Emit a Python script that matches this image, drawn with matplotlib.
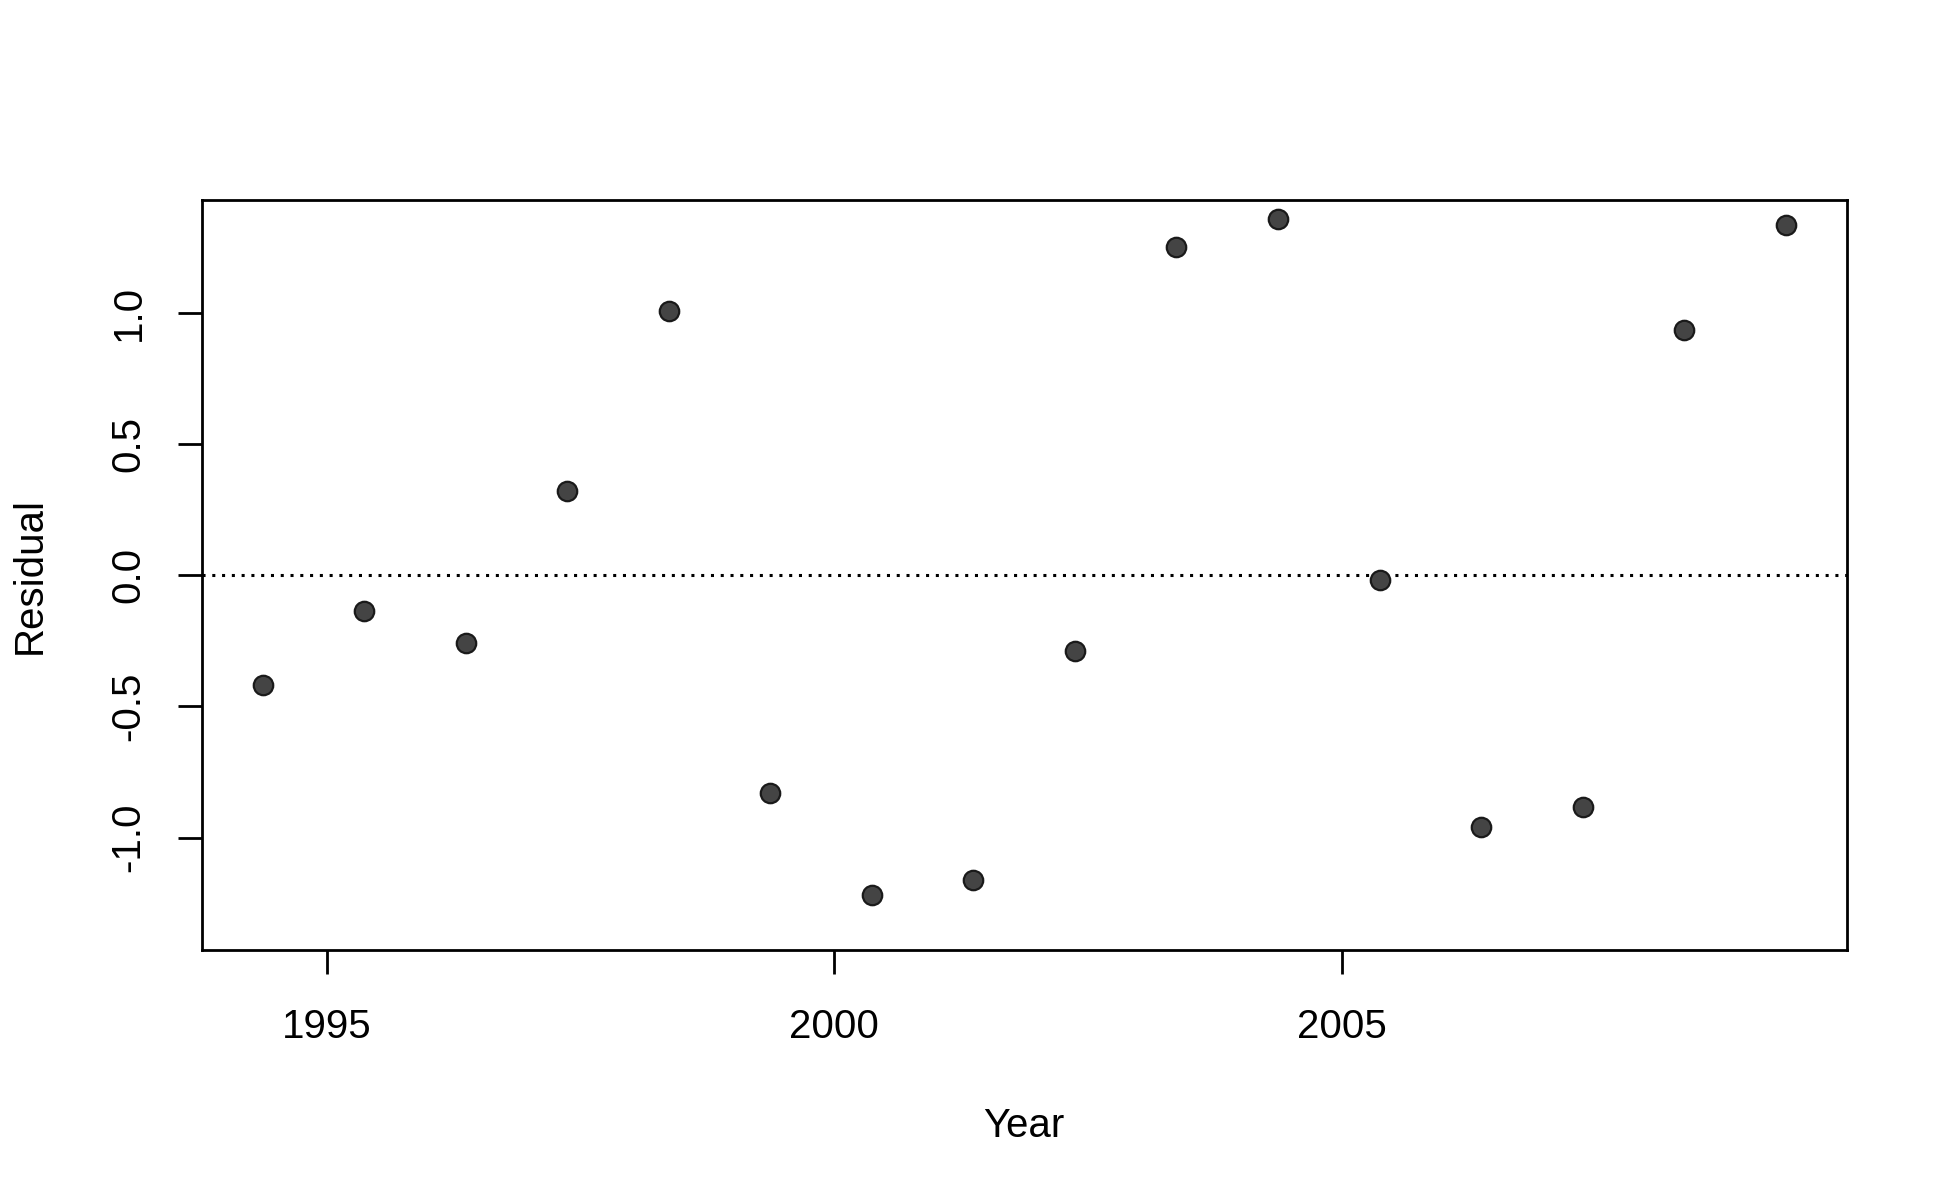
import matplotlib
matplotlib.use('Agg')
import matplotlib.pyplot as plt

# residuals by year
years = [1994.37, 1995.37, 1996.37, 1997.37, 1998.37, 1999.37, 2000.37, 2001.37,
         2002.37, 2003.37, 2004.37, 2005.37, 2006.37, 2007.37, 2008.37, 2009.37]
resid = [-0.42, -0.135, -0.26, 0.32, 1.005, -0.83, -1.22, -1.16,
         -0.29, 1.25, 1.355, -0.02, -0.96, -0.885, 0.935, 1.335]
xticks = [1995, 2000, 2005]
yticks = [-1.0, -0.5, 0.0, 0.5, 1.0]

plt.rcParams['font.family'] = ['Liberation Sans', 'DejaVu Sans']

fig = plt.figure(figsize=(19.5, 12), dpi=100)
ax = fig.add_axes([0.1034, 0.2085, 0.8436, 0.6245])

ax.axhline(0, color='black', linestyle=(0, (1, 2.2)), linewidth=2.2)
ax.plot(years, resid, 'o', markersize=14, markerfacecolor='#444444',
        markeredgecolor='#1a1a1a', markeredgewidth=1.6)

ax.set_xlim(1993.77, 2009.97)
ax.set_ylim(-1.427, 1.427)
ax.set_xticks(xticks)
ax.set_xticklabels([str(t) for t in xticks])
ax.set_yticks(yticks)
ax.set_yticklabels(['%.1f' % t for t in yticks], rotation=90, va='center')

for s in ax.spines.values():
    s.set_linewidth(2)
ax.tick_params(axis='both', length=17, width=2, labelsize=29, pad=22)
ax.tick_params(axis='x', pad=25)

ax.set_xlabel('Year', fontsize=29, labelpad=44)
ax.set_ylabel('Residual', fontsize=29, labelpad=44)

fig.savefig('out.png', dpi=100)
